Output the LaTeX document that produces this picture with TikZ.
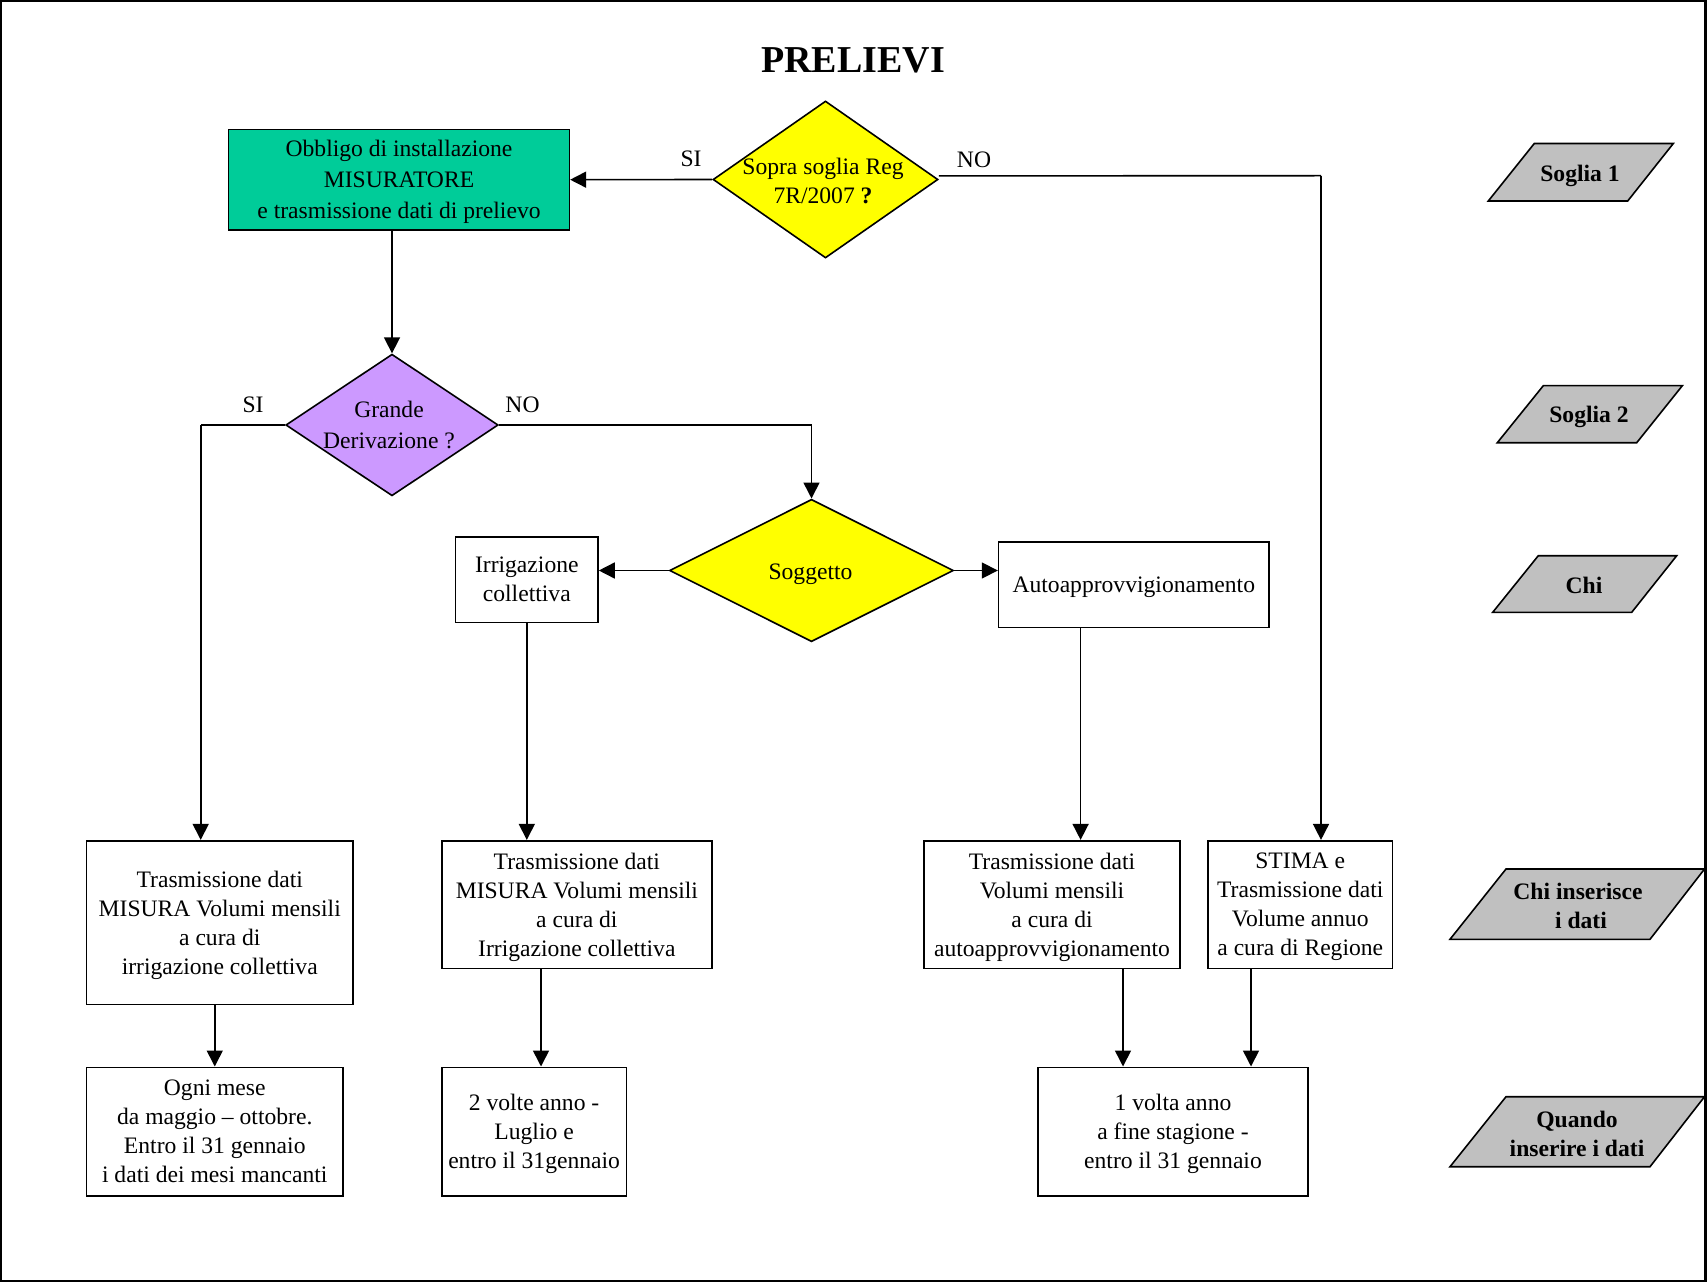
\documentclass[tikz,border=0pt]{standalone}
\usepackage{fontspec}
\setmainfont{Liberation Serif}
\usetikzlibrary{arrows.meta,shapes.geometric}

\definecolor{gbox}{HTML}{00CC99}
\definecolor{pdia}{HTML}{CC99FF}
\definecolor{ydia}{HTML}{FFFF00}
\definecolor{gpar}{HTML}{C0C0C0}

\newcommand\bodyfont{\fontsize{11.8}{14.5}\selectfont}

\begin{document}
\begin{tikzpicture}[x=0.5pt,y=-0.5pt,
  txt/.style={align=center,inner sep=0pt,font=\bodyfont},
  btxt/.style={align=center,inner sep=0pt,font=\bodyfont\bfseries},
  stepbox/.style={draw,line width=0.8pt,align=center,inner sep=0pt,text depth=0pt,font=\bodyfont},
  decision/.style={diamond,draw,line width=0.8pt,inner sep=0pt,aspect=1},
  para/.style={draw,line width=0.8pt,fill=gpar,line join=miter},
  arr/.style={line width=0.8pt,-{Triangle[length=8pt,width=8pt]}},
  conn/.style={line width=0.8pt}]

\useasboundingbox (0,0) rectangle (1707,1283);
\draw[line width=1.15pt] (1.1,1.1) rectangle (1705.5,1281.2);

% title
\node[font=\fontsize{19}{23}\selectfont\bfseries] (title) at (853,60) {PRELIEVI};

% first threshold
\node[stepbox,fill=gbox,minimum width=170.35pt,minimum height=50.25pt,
      font=\fontsize{11.8}{15.5}\selectfont] (g) at (399,179.7)
  {Obbligo di installazione\\MISURATORE\\e trasmissione dati di prelievo};
\node[decision,fill=ydia,minimum width=112.5pt,minimum height=78.5pt] (d1) at (825.5,179.5) {};
\node[txt] (d1t) at (823,181) {Sopra soglia Reg\\7R/2007 \textbf{?}};

% second threshold
\node[decision,fill=pdia,minimum width=106.25pt,minimum height=70.85pt] (d2) at (392,425) {};
\node[txt,font=\fontsize{11.8}{15.5}\selectfont] (d2t) at (389,425) {Grande\\Derivazione ?};

% who
\node[decision,fill=ydia,minimum width=142pt,minimum height=71.2pt] (d3) at (811.5,570.5) {};
\node[txt] (d3t) at (810.5,574.5) {Soggetto};
\node[stepbox,minimum width=71.2pt,minimum height=42.8pt] (ic) at (526.8,579.5)
  {Irrigazione\\collettiva};
\node[stepbox,minimum width=135.2pt,minimum height=42.8pt] (aa) at (1133.8,584.5)
  {Autoapprovvigionamento};

% who enters the data
\node[stepbox,minimum width=133.25pt,minimum height=81.8pt] (b1) at (219.75,922.5)
  {Trasmissione dati\\MISURA Volumi mensili\\a cura di\\irrigazione collettiva};
\node[stepbox,minimum width=135.15pt,minimum height=63.8pt] (b2) at (576.85,904.5)
  {Trasmissione dati\\MISURA Volumi mensili\\a cura di\\Irrigazione collettiva};
\node[stepbox,minimum width=128pt,minimum height=63.8pt] (b3) at (1052,904.5)
  {Trasmissione dati\\Volumi mensili\\a cura di\\autoapprovvigionamento};
\node[stepbox,minimum width=92.25pt,minimum height=63.8pt] (b4) at (1300.25,904.5)
  {STIMA e\\Trasmissione dati\\Volume annuo\\a cura di Regione};

% when
\node[stepbox,minimum width=128.25pt,minimum height=64.35pt] (q1) at (214.75,1131.65)
  {Ogni mese\\da maggio -- ottobre.\\Entro il 31 gennaio\\i dati dei mesi mancanti};
\node[stepbox,minimum width=92.4pt,minimum height=64.35pt] (q2) at (534.1,1131.65)
  {2 volte anno -\\Luglio e\\entro il 31gennaio};
\node[stepbox,minimum width=135pt,minimum height=64.35pt] (q3) at (1173,1131.65)
  {1 volta anno\\a fine stagione -\\entro il 31 gennaio};

% branch labels
\node[txt] (si1) at (691,159) {SI};
\node[txt] (no1) at (974,160) {NO};
\node[txt] (si2) at (253,405) {SI};
\node[txt] (no2) at (522.5,405) {NO};

% bend points and drop lines
\coordinate (noR) at (1321,175.7);
\coordinate (siL) at (200.7,425);
\coordinate (aaX) at (1080.6,0);
\coordinate (b2X) at (541,0);
\coordinate (b3X) at (1123,0);
\coordinate (b4X) at (1251,0);

% connectors
\draw[arr] (d1.west) -- (g.east);
\draw[conn] ([yshift=1.8pt]d1.east) -- (noR);
\draw[arr] (noR) -- (noR |- b4.north);
\draw[arr] (g.south -| d2.north) -- (d2.north);
\draw[conn] (d2.west) -- (siL);
\draw[arr] (siL) -- (siL |- b1.north);
\draw[arr] (d2.east) -| (d3.north);
\draw[arr] (d3.west) -- (d3.west -| ic.east);
\draw[arr] (d3.east) -- (d3.east -| aa.west);
\draw[arr] (ic.south) -- (ic.south |- b2.north);
\draw[arr] (aa.south -| aaX) -- (aaX |- b3.north);
\draw[arr] (b1.south -| q1.north) -- (q1.north);
\draw[arr] (b2.south -| b2X) -- (b2X |- q2.north);
\draw[arr] (b3.south -| b3X) -- (b3X |- q3.north);
\draw[arr] (b4.south -| b4X) -- (b4X |- q3.north);

% row captions
\draw[para] (1488.3,201) -- (1627.7,201) -- (1673.3,143.5) -- (1534.3,143.5) -- cycle;
\node[btxt] (p1) at (1580,175.5) {Soglia 1};
\draw[para] (1497.3,442.7) -- (1636.7,442.7) -- (1682.3,385.7) -- (1543.3,385.7) -- cycle;
\node[btxt] (p2) at (1589,416.5) {Soglia 2};
\draw[para] (1492.7,612.3) -- (1631.7,612.3) -- (1676.7,555.7) -- (1538.3,555.7) -- cycle;
\node[btxt] (p3) at (1584,585) {Chi};
\draw[para] (1450,939.3) -- (1650,939.3) -- (1704.5,869) -- (1506,869) -- cycle;
\node[btxt] (p4) at (1578,906) {Chi inserisce\\\ i dati};
\draw[para] (1450,1166.7) -- (1650,1166.7) -- (1704.5,1096.7) -- (1506,1096.7) -- cycle;
\node[btxt] (p5) at (1577,1133.5) {Quando\\inserire i dati};

\end{tikzpicture}
\end{document}
